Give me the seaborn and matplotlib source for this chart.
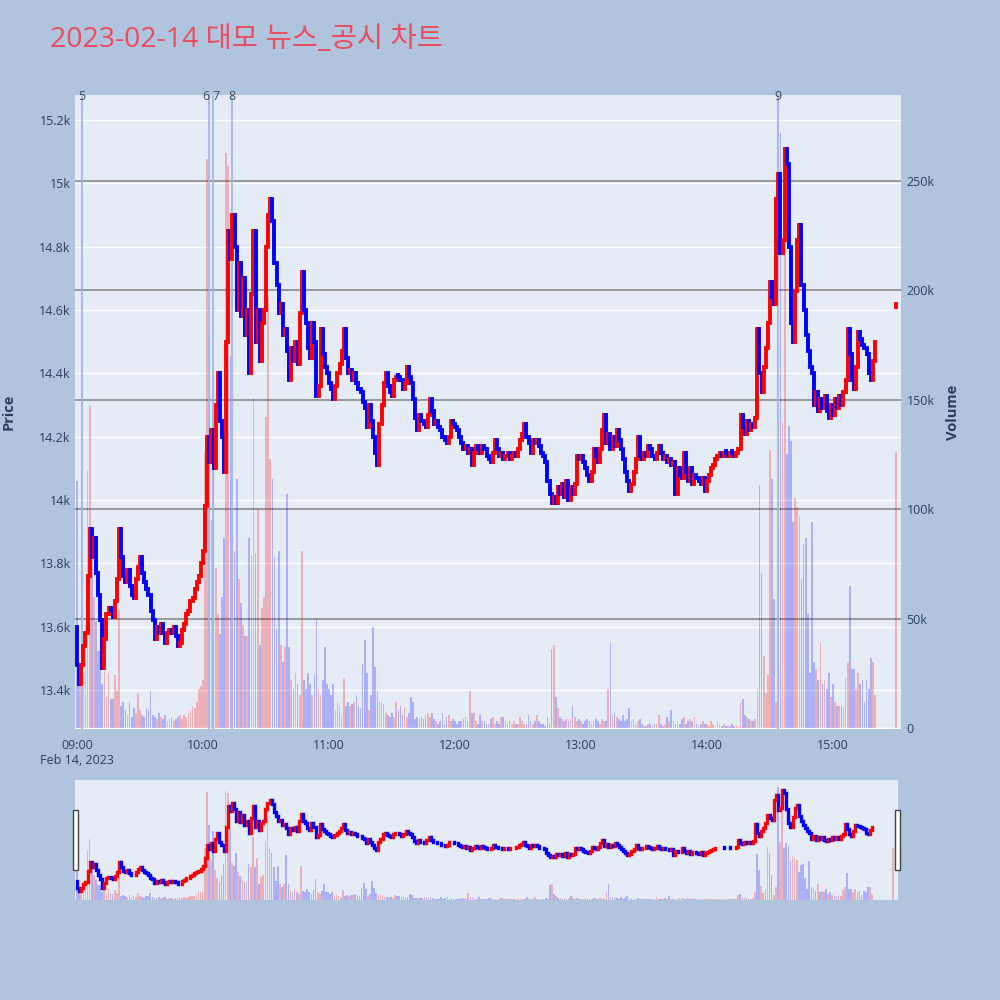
import matplotlib
matplotlib.use("Agg")
import matplotlib.pyplot as plt
import matplotlib.transforms as mtransforms
from matplotlib.patches import Rectangle
import numpy as np
import pandas as pd
import seaborn as sns

# ---------------- data ----------------
title = "2023-02-14 대모 뉴스_공시 차트"
session_start = "09:00"
first_open = 13600
closes = [
    13480, 13420, 13480, 13540, 13580, 13760, 13910, 13820, 13880, 13770,
    13700, 13620, 13470, 13560, 13640, 13660, 13650, 13630, 13680, 13750,
    13910, 13820, 13760, 13740, 13780, 13730, 13700, 13690, 13750, 13790,
    13820, 13770, 13740, 13720, 13700, 13650, 13620, 13560, 13600, 13580,
    13610, 13580, 13550, 13580, 13590, 13580, 13600, 13570, 13540, 13550,
    13590, 13610, 13640, 13650, 13680, 13690, 13720, 13740, 13760, 13800,
    13840, 13980, 14200, 14120, 14220, 14100, 14300, 14400, 14250, 14200,
    14090, 14500, 14850, 14760, 14900, 14800, 14600, 14750, 14580, 14700,
    14520, 14600, 14400, 14650, 14850, 14500, 14600, 14440, 14560, 14600,
    14800, 14900, 14950, 14880, 14750, 14680, 14590, 14620, 14520, 14540,
    14470, 14380, 14480, 14440, 14500, 14430, 14590, 14720, 14600, 14560,
    14480, 14450, 14560, 14500, 14330, 14360, 14540, 14460, 14420, 14400,
    14370, 14350, 14320, 14360, 14400, 14430, 14470, 14540, 14450, 14400,
    14410, 14380, 14400, 14370, 14350, 14340, 14310, 14290, 14230, 14300,
    14250, 14200, 14150, 14110, 14240, 14300, 14370, 14400, 14360, 14340,
    14330, 14380, 14390, 14390, 14380, 14350, 14370, 14420, 14390, 14370,
    14320, 14260, 14220, 14270, 14250, 14240, 14230, 14270, 14320, 14280,
    14240, 14250, 14230, 14220, 14200, 14190, 14180, 14200, 14250, 14240,
    14230, 14220, 14200, 14180, 14160, 14170, 14150, 14160, 14110, 14150,
    14170, 14160, 14150, 14170, 14160, 14140, 14130, 14120, 14150, 14190,
    14160, 14140, 14150, 14130, 14140, 14150, 14130, 14140, 14150, 14140,
    14160, 14190, 14210, 14240, 14200, 14180, 14150, 14190, 14180, 14190,
    14170, 14150, 14140, 14120, 14060, 14020, 13990, 14010, 13990, 14040,
    14020, 14050, 14010, 14060, 14000, 14040, 14020, 14050, 14140, 14130,
    14140, 14120, 14100, 14080, 14060, 14090, 14160, 14140, 14120, 14160,
    14220, 14270, 14180, 14210, 14160, 14200, 14170, 14220, 14190, 14160,
    14130, 14090, 14060, 14030, 14050, 14090, 14130, 14200, 14140, 14130,
    14150, 14140, 14170, 14160, 14140, 14130, 14150, 14170, 14150, 14130,
    14140, 14120, 14130, 14110, 14120, 14020, 14100, 14080, 14070, 14150,
    14090, 14060, 14100, 14050, 14080, 14070, 14060, 14050, 14070, 14030,
    14060, 14080, 14100, 14110, 14130, 14140, 14150, 14140, 14150, 14150,
    14140, 14150, 14150, 14140, 14150, 14160, 14270, 14230, 14210, 14250,
    14220, 14240, 14230, 14260, 14540, 14400, 14340, 14420, 14480, 14560,
    14690, 14640, 14620, 14950, 15030, 14780, 14820, 15110, 15060, 14800,
    14560, 14500, 14660, 14820, 14870, 14680, 14600, 14520, 14470, 14420,
    14400, 14300, 14340, 14280, 14320, 14290, 14330, 14280, 14260, 14300,
    14270, 14320, 14290, 14330, 14300, 14340, 14380, 14540, 14460, 14380,
    14350, 14420, 14530, 14510, 14490, 14480, 14460, 14400, 14380, 14440,
    14500,
]
volumes_k = [
    113, 30, 22, 25, 47, 118, 147, 87, 60, 49,
    35, 35, 20, 26, 14, 25, 13, 13, 24, 17,
    54, 10, 12, 8, 6, 12, 5, 9, 7, 16,
    8, 6, 5, 9, 8, 17, 6, 5, 4, 7,
    5, 4, 6, 3, 4, 5, 3, 4, 5, 6,
    4, 6, 5, 7, 8, 10, 9, 12, 18, 19,
    22, 126, 260, 180, 95, 166, 73, 52, 43, 60,
    87, 263, 257, 170, 88, 81, 114, 68, 57, 47,
    42, 42, 87, 79, 151, 80, 100, 38, 55, 60,
    142, 197, 123, 114, 78, 45, 81, 38, 30, 37,
    107, 37, 22, 18, 25, 20, 15, 81, 22, 18,
    25, 20, 15, 24, 50, 18, 15, 22, 37, 20,
    18, 15, 20, 8, 12, 10, 5, 23, 10, 12,
    10, 11, 12, 15, 10, 9, 29, 40, 25, 8,
    15, 46, 28, 17, 12, 12, 11, 7, 6, 5,
    7, 5, 12, 8, 10, 6, 9, 5, 7, 14,
    12, 4, 5, 4, 5, 4, 6, 7, 5, 7,
    4, 3, 2, 3, 7, 2, 5, 6, 3, 4,
    3, 2, 3, 3, 4, 5, 3, 17, 7, 7,
    3, 2, 6, 3, 3, 2, 2, 4, 5, 2,
    3, 2, 5, 5, 3, 2, 3, 2, 3, 2,
    2, 5, 3, 2, 2, 6, 3, 2, 3, 6,
    3, 2, 2, 1, 5, 2, 36, 38, 14, 9,
    5, 4, 3, 4, 3, 4, 10, 5, 3, 4,
    3, 2, 3, 4, 3, 2, 3, 4, 3, 2,
    4, 3, 3, 18, 39, 6, 7, 5, 4, 3,
    6, 3, 4, 9, 3, 4, 2, 3, 4, 2,
    1, 1, 2, 2, 1, 2, 2, 6, 2, 1,
    2, 5, 3, 8, 3, 2, 3, 2, 4, 5,
    2, 3, 4, 3, 5, 2, 1, 2, 3, 2,
    2, 1, 3, 2, 1, 3, 2, 1, 2, 1,
    1, 1, 2, 1, 1, 1, 12, 13, 6, 5,
    4, 3, 3, 4, 18, 111, 71, 33, 16, 24,
    127, 114, 59, 12, 30, 272, 140, 265, 125, 138,
    131, 94, 105, 101, 97, 68, 84, 87, 52, 25,
    94, 30, 27, 22, 39, 20, 22, 18, 25, 14,
    20, 12, 10, 10, 10, 9, 23, 30, 65, 27,
    27, 18, 25, 20, 22, 12, 22, 18, 32, 30,
    15,
]
auction_time = "15:30"
auction_open = 14610
auction_close = 14620
auction_volume_k = 126

news_labels = ["5", "6", "7", "8", "9"]
news_times = ["09:02:12", "10:02:54", "10:04:36", "10:13:54", "14:33:36"]

x_tick_labels = ["09:00", "10:00", "11:00", "12:00", "13:00", "14:00", "15:00"]
date_label = "Feb 14, 2023"
price_ticks = [13400, 13600, 13800, 14000, 14200, 14400, 14600, 14800, 15000, 15200]
price_tick_labels = ["13.4k", "13.6k", "13.8k", "14k", "14.2k", "14.4k", "14.6k", "14.8k", "15k", "15.2k"]
volume_ticks_k = [0, 50, 100, 150, 200, 250]
volume_tick_labels = ["0", "50k", "100k", "150k", "200k", "250k"]

# ---------------- style ----------------
sns.set_theme(style="white")
plt.rcParams["font.family"] = ["Open Sans", "Noto Sans CJK KR", "DejaVu Sans"]

PAGE_BG = "#B0C4DE"
PLOT_BG = "#E5ECF6"
FONT_C = "#2a3f5f"
UP = "#FF0000"
DOWN = "#0000FF"


def to_min(s):
    parts = s.split(":")
    base = session_start.split(":")
    v = (int(parts[0]) - int(base[0])) * 60 + int(parts[1]) - int(base[1])
    if len(parts) > 2:
        v += int(parts[2]) / 60.0
    return v


df = pd.DataFrame({"close": closes, "volume": volumes_k})
df["t"] = np.arange(len(df), dtype=float)
df["open"] = [first_open] + closes[:-1]
auction = pd.DataFrame({"close": [auction_close], "volume": [auction_volume_k],
                        "t": [to_min(auction_time)], "open": [auction_open]})
df = pd.concat([df, auction], ignore_index=True)
df["up"] = df["close"] > df["open"]
df["lo"] = df[["open", "close"]].min(axis=1)
df["hi"] = df[["open", "close"]].max(axis=1)
df.loc[df["hi"] == df["lo"], "hi"] = df["lo"] + 4
df["color"] = np.where(df["up"], UP, DOWN)

XLIM = (-1.0, 392.4)
PLIM = (13277, 15279)
VLIM = (-0.5, 289.3)


def draw_panel(ax_v, ax_c, lw, bar_w):
    vcols = [matplotlib.colors.to_rgba(c, 0.25) for c in df["color"]]
    ax_v.bar(df["t"], df["volume"], width=bar_w, color=vcols, linewidth=0, zorder=2)
    lc = ax_c.vlines(df["t"], df["lo"], df["hi"], colors=df["color"], linewidth=lw, zorder=3)
    lc.set_capstyle("projecting")
    ax_v.set_ylim(*VLIM)
    ax_c.set_ylim(*PLIM)
    ax_v.set_xlim(*XLIM)


fig = plt.figure(figsize=(10, 10), dpi=100, facecolor=PAGE_BG)

# ---------------- main panel ----------------
ax_p = fig.add_axes([0.075, 0.271, 0.826, 0.634])
ax_p.set_facecolor(PLOT_BG)
ax_v = ax_p.twinx()
ax_c = ax_p.twinx()

ax_p.set_xlim(*XLIM)
ax_p.set_ylim(*PLIM)
ax_p.set_yticks(price_ticks)
ax_p.set_yticklabels(price_tick_labels)
ax_p.grid(axis="y", color="white", linewidth=1.0)
ax_p.grid(axis="x", visible=False)
ax_p.set_axisbelow(True)
xt = [to_min(s) for s in x_tick_labels]
xl = list(x_tick_labels)
xl[0] = xl[0] + "\n" + date_label
ax_p.set_xticks(xt)
ax_p.set_xticklabels(xl, linespacing=1.25)
ax_p.tick_params(axis="y", length=0, pad=3, labelsize=9, labelcolor=FONT_C)
ax_p.tick_params(axis="x", length=0, pad=7, labelsize=9, labelcolor=FONT_C)

draw_panel(ax_v, ax_c, 2.8, 0.8)
ax_v.set_yticks(volume_ticks_k)
ax_v.set_yticklabels(volume_tick_labels)
ax_v.grid(axis="y", color="#808080", linewidth=1.1)
ax_v.set_axisbelow(True)
ax_v.axhline(0, color="white", linewidth=2.0, zorder=1.5)
ax_v.tick_params(axis="y", length=0, pad=4, labelsize=9, labelcolor=FONT_C)
ax_c.axis("off")

for a in (ax_p, ax_v, ax_c):
    for s in a.spines.values():
        s.set_visible(False)

trans = mtransforms.blended_transform_factory(ax_c.transData, ax_c.transAxes)
news_t = [to_min(tm) for tm in news_times]
for i, (lbl, t) in enumerate(zip(news_labels, news_t)):
    ax_c.axvline(t, color="#9fb2ec", linewidth=1.5, alpha=0.85, zorder=2.5)
    ha = "center"
    if i + 1 < len(news_t) and news_t[i + 1] - t < 3:
        ha = "right"
    elif i > 0 and t - news_t[i - 1] < 3:
        ha = "left"
    ax_c.text(t, 0.997, lbl, transform=trans, ha=ha, va="center",
              fontsize=9, color="#3d4a5c", zorder=5, clip_on=False)

fig.text(0.05, 0.96, title, color="#EA4C60", fontsize=20.5, ha="left", va="center")
fig.text(0.009, 0.588, "Price", rotation=90, fontsize=10.5, fontweight="bold",
         color=FONT_C, ha="center", va="center")
fig.text(0.953, 0.588, "Volume", rotation=90, fontsize=10.5, fontweight="bold",
         color=FONT_C, ha="center", va="center")

# ---------------- range slider ----------------
ax_s = fig.add_axes([0.075, 0.10, 0.823, 0.12])
ax_s.set_facecolor(PLOT_BG)
ax_sc = ax_s.twinx()
draw_panel(ax_s, ax_sc, 2.4, 0.8)
for a in (ax_s, ax_sc):
    a.set_xticks([])
    a.set_yticks([])
    a.grid(False)
    for s in a.spines.values():
        s.set_visible(False)

for x0 in (0.073, 0.895):
    fig.patches.append(Rectangle((x0, 0.13), 0.005, 0.06, transform=fig.transFigure,
                                 facecolor="white", edgecolor="#444444", linewidth=1.0))

fig.savefig("out.png", dpi=100, facecolor=PAGE_BG)
